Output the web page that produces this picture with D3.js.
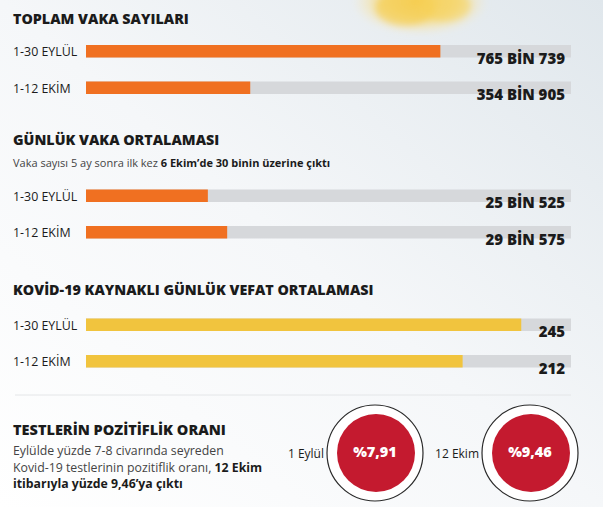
<!DOCTYPE html>
<html><head><meta charset="utf-8">
<script src="https://cdn.jsdelivr.net/npm/d3@7"></script>
<style>
html,body{margin:0;padding:0;background:#fff;}
svg{display:block;}
</style></head>
<body>
<svg id="c" width="603" height="507"></svg>
<script>
// ---- data ----
const periods = ["1-30 EYLÜL", "1-12 EKİM"];
const totalCases = [765739, 354905];
const totalCasesLabels = ["765 BİN 739", "354 BİN 905"];
const dailyCases = [25525, 29575];
const dailyCasesLabels = ["25 BİN 525", "29 BİN 575"];
const dailyDeaths = [245, 212];
const dailyDeathsLabels = ["245", "212"];
const sectionMax = [1048000, 101600, 273];
const sectionTitles = ["TOPLAM VAKA SAYILARI", "GÜNLÜK VAKA ORTALAMASI", "KOVİD-19 KAYNAKLI GÜNLÜK VEFAT ORTALAMASI"];
const positivityDates = ["1 Eylül", "12 Ekim"];
const positivityRates = [7.91, 9.46];
const positivityLabels = ["%7,91", "%9,46"];

const svg = d3.select("#c");
const W = 603, H = 507;
const defs = svg.append("defs");

// background gradient
const bg = defs.append("linearGradient").attr("id","bg").attr("x1","0").attr("y1","1").attr("x2","1").attr("y2","0");
bg.append("stop").attr("offset","0").attr("stop-color","#ffffff");
bg.append("stop").attr("offset","0.5").attr("stop-color","#f5f7f9");
bg.append("stop").attr("offset","1").attr("stop-color","#e0e7ec");
svg.append("rect").attr("width",W).attr("height",H).attr("fill","url(#bg)");

// yellow blob
const rg = defs.append("radialGradient").attr("id","blob");
rg.append("stop").attr("offset","0").attr("stop-color","#f6cb4c").attr("stop-opacity",0.95);
rg.append("stop").attr("offset","0.55").attr("stop-color","#f8d66a").attr("stop-opacity",0.75);
rg.append("stop").attr("offset","1").attr("stop-color","#fbe9b0").attr("stop-opacity",0);
const blur = defs.append("filter").attr("id","bl").attr("x","-50%").attr("y","-50%").attr("width","200%").attr("height","200%");
blur.append("feGaussianBlur").attr("stdDeviation",3);
const blobG = svg.append("g").attr("filter","url(#bl)");
blobG.append("ellipse").attr("cx",420).attr("cy",2).attr("rx",68).attr("ry",33).attr("fill","url(#blob)");
blobG.append("ellipse").attr("cx",405).attr("cy",8).attr("rx",30).attr("ry",18).attr("fill","#f6cc4a").attr("opacity",0.55);
blobG.append("ellipse").attr("cx",445).attr("cy",6).attr("rx",26).attr("ry",16).attr("fill","#f8d35c").attr("opacity",0.5);

const FONT = "'Open Sans', 'Noto Sans', sans-serif";
const dark = "#1b1b1b";
const track = "#d6d8db";

const sections = [
  {title: sectionTitles[0], titleY: 24, barTop: 45, values: totalCases, labels: totalCasesLabels, max: sectionMax[0], color: "#f07021"},
  {title: sectionTitles[1], titleY: 145, barTop: 189.5, values: dailyCases, labels: dailyCasesLabels, max: sectionMax[1], color: "#f07021",
   sub: [["Vaka sayısı 5 ay sonra ilk kez ", false], ["6 Ekim’de 30 binin üzerine çıktı", true]], subY: 166.5},
  {title: sectionTitles[2], titleY: 294.5, barTop: 318.5, values: dailyDeaths, labels: dailyDeathsLabels, max: sectionMax[2], color: "#f1c43e"}
];

const barH = 12.5, gap = 36.5;

sections.forEach(s => {
  const x = d3.scaleLinear().domain([0, s.max]).range([86, 571]);
  const y = d3.scaleBand().domain(periods).range([s.barTop, s.barTop + gap * 2]).paddingInner(0).paddingOuter(0);
  const g = svg.append("g");
  g.append("text").attr("x",13).attr("y",s.titleY).attr("font-family",FONT).attr("font-weight",800)
    .attr("font-size",14.3).attr("fill",dark).text(s.title);
  if (s.sub) {
    const t = g.append("text").attr("x",13).attr("y",s.subY).attr("font-family",FONT).attr("font-size",11).attr("fill","#333");
    s.sub.forEach(([txt,b]) => t.append("tspan").attr("font-weight", b ? 700 : 400).attr("fill", b ? dark : "#444").text(txt));
  }
  periods.forEach((p,i) => {
    const yy = y(p);
    g.append("text").attr("x",13).attr("y",yy+11).attr("font-family",FONT).attr("font-size",12.4).attr("fill",dark).text(p);
    g.append("rect").attr("x",x(0)).attr("y",yy).attr("width",x(s.max)-x(0)).attr("height",barH).attr("fill",track);
    g.append("rect").attr("x",x(0)).attr("y",yy).attr("width",x(s.values[i])-x(0)).attr("height",barH).attr("fill",s.color);
    g.append("text").attr("x",565).attr("y",yy+18.5).attr("text-anchor","end").attr("font-family",FONT)
      .attr("font-weight",800).attr("font-size",15).attr("fill",dark).text(s.labels[i]);
  });
});

// separator
svg.append("line").attr("x1",15).attr("x2",571).attr("y1",395).attr("y2",395).attr("stroke","#e4e6e8").attr("stroke-width",1);

// positivity section
svg.append("text").attr("x",13).attr("y",435).attr("font-family",FONT).attr("font-weight",800)
  .attr("font-size",14.5).attr("fill",dark).text("TESTLERİN POZİTİFLİK ORANI");
const lines = [
  [["Eylülde yüzde 7-8 civarında seyreden", false]],
  [["Kovid-19 testlerinin pozitiflik oranı, ", false], ["12 Ekim", true]],
  [["itibarıyla yüzde 9,46’ya çıktı", true]]
];
lines.forEach((ln,i) => {
  const t = svg.append("text").attr("x",13).attr("y",455 + i*16.5).attr("font-family",FONT).attr("font-size",12.3);
  ln.forEach(([txt,b]) => t.append("tspan").attr("font-weight", b ? 700 : 400).attr("fill", b ? dark : "#444").text(txt));
});

const cx = d3.scalePoint().domain(positivityDates).range([375, 530]);
positivityDates.forEach((d,i) => {
  const c = cx(d), cy = 453;
  svg.append("circle").attr("cx",c).attr("cy",cy).attr("r",48).attr("fill","#fff").attr("stroke","#2a2a2a").attr("stroke-width",1.2);
  svg.append("circle").attr("cx",c+1).attr("cy",cy).attr("r",39).attr("fill","#c41a2f");
  svg.append("text").attr("x",c).attr("y",cy+4).attr("text-anchor","middle").attr("font-family",FONT)
    .attr("font-weight",800).attr("font-size",14.5).attr("fill","#fff").text(positivityLabels[i]);
  svg.append("text").attr("x",c-51).attr("y",cy+5).attr("text-anchor","end").attr("font-family",FONT)
    .attr("font-size",12).attr("fill",dark).text(d);
});
</script>
</body></html>
